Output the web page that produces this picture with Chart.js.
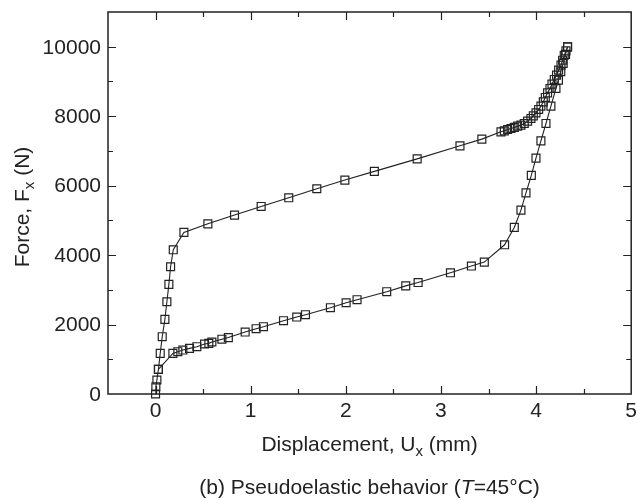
<!DOCTYPE html>
<html>
<head>
<meta charset="utf-8">
<script src="https://cdn.jsdelivr.net/npm/chart.js@4.4.1/dist/chart.umd.min.js"></script>
<style>
  body { margin: 0; background: #fff; }
  #wrap { width: 638px; height: 500px; }
</style>
</head>
<body>
<div id="wrap"><canvas id="forceChart" width="638" height="500"></canvas></div>
<script>
// loading branch, displacement (mm) / force (N)
const loadX = [0, 0.003, 0.014, 0.03, 0.049, 0.07, 0.098, 0.119, 0.14, 0.158,
    0.186, 0.298, 0.55, 0.83, 1.11, 1.40, 1.695, 1.99, 2.30, 2.75,
    3.20, 3.43, 3.631, 3.666, 3.701, 3.736, 3.771, 3.806, 3.841, 3.876,
    3.911, 3.946, 3.971, 3.999, 4.027, 4.051, 4.076, 4.097, 4.121, 4.146,
    4.167, 4.191, 4.215, 4.237, 4.262, 4.279, 4.296, 4.314, 4.331];
const loadY = [0, 210, 403, 710, 1170, 1650, 2150, 2656, 3157, 3664,
    4153, 4653, 4900, 5152, 5400, 5650, 5910, 6160, 6410, 6770,
    7146, 7339, 7549, 7578, 7618, 7647, 7676, 7713, 7742, 7791,
    7857, 7935, 8010, 8096, 8194, 8289, 8413, 8539, 8672, 8798,
    8922, 9057, 9181, 9325, 9469, 9612, 9756, 9881, 9996];

// unloading branch
const unloadX = [4.331, 4.31, 4.285, 4.26, 4.235, 4.209, 4.156, 4.104, 4.051, 3.999,
    3.95, 3.894, 3.841, 3.771, 3.669, 3.456, 3.32, 3.10, 2.76, 2.63,
    2.43, 2.118, 2.003, 1.838, 1.576, 1.484, 1.345, 1.134, 1.057, 0.942,
    0.765, 0.697, 0.592, 0.56, 0.515, 0.434, 0.357, 0.287, 0.234, 0.182,
    0.03];
const unloadY = [9996, 9780, 9520, 9280, 9040, 8797, 8289, 7790, 7290, 6792,
    6294, 5793, 5296, 4797, 4297, 3799, 3684, 3491, 3209, 3113,
    2945, 2715, 2628, 2485, 2283, 2216, 2110, 1937, 1880, 1784,
    1625, 1578, 1497, 1458, 1440, 1362, 1314, 1266, 1218, 1170,
    710];

const xTicks = [0, 1, 2, 3, 4, 5];
const yTicks = [0, 2000, 4000, 6000, 8000, 10000];

const FONT = '"Liberation Sans", Arial, Helvetica, sans-serif';
const INK = '#222';

function toPoints(xs, ys) {
    return xs.map((x, i) => ({ x: x, y: ys[i] }));
}

// draws text pieces one after another, returns the x where it stopped
function drawRun(ctx, parts, x, y) {
    parts.forEach(p => {
        ctx.font = p.font;
        ctx.fillText(p.text, x, y + (p.dy || 0));
        x += ctx.measureText(p.text).width;
    });
    return x;
}

function runWidth(ctx, parts) {
    let w = 0;
    parts.forEach(p => {
        ctx.font = p.font;
        w += ctx.measureText(p.text).width;
    });
    return w;
}

// box frame with inward ticks, tick labels and titles
const framePlugin = {
    id: 'frame',
    afterDraw(chart) {
        const ctx = chart.ctx;
        const a = chart.chartArea;
        const sx = chart.scales.x;
        const sy = chart.scales.y;

        ctx.save();
        ctx.strokeStyle = INK;
        ctx.lineWidth = 1.5;
        ctx.strokeRect(a.left, a.top, a.right - a.left, a.bottom - a.top);

        ctx.lineWidth = 1.2;
        ctx.beginPath();
        for (let v = 0; v < 5; v += 0.5) {
            const px = Math.round(sx.getPixelForValue(v)) + 0.5;
            const len = Number.isInteger(v) ? 8 : 5;
            ctx.moveTo(px, a.bottom);
            ctx.lineTo(px, a.bottom - len);
            ctx.moveTo(px, a.top);
            ctx.lineTo(px, a.top + len);
        }
        for (let v = 1000; v <= 10000; v += 1000) {
            const py = Math.round(sy.getPixelForValue(v)) + 0.5;
            const len = v % 2000 === 0 ? 8 : 5;
            ctx.moveTo(a.left, py);
            ctx.lineTo(a.left + len, py);
            ctx.moveTo(a.right, py);
            ctx.lineTo(a.right - len, py);
        }
        ctx.stroke();

        ctx.fillStyle = INK;
        ctx.font = '21px ' + FONT;
        ctx.textAlign = 'center';
        ctx.textBaseline = 'alphabetic';
        xTicks.forEach(v => {
            ctx.fillText(String(v), sx.getPixelForValue(v), a.bottom + 23);
        });
        ctx.textAlign = 'right';
        ctx.textBaseline = 'middle';
        yTicks.forEach(v => {
            ctx.fillText(String(v), a.left - 7, sy.getPixelForValue(v) + 1);
        });

        ctx.textAlign = 'left';
        ctx.textBaseline = 'alphabetic';
        const big = '21px ' + FONT;
        const sub = '15px ' + FONT;

        // x axis title
        const xTitle = [
            { text: 'Displacement, U', font: big },
            { text: 'x', font: sub, dy: 5 },
            { text: ' (mm)', font: big }
        ];
        const cx = (a.left + a.right) / 2;
        drawRun(ctx, xTitle, cx - runWidth(ctx, xTitle) / 2, 450.5);

        // y axis title, rotated
        const yTitle = [
            { text: 'Force, F', font: big },
            { text: 'x', font: sub, dy: 5 },
            { text: ' (N)', font: big }
        ];
        ctx.save();
        ctx.translate(28.5, (a.top + a.bottom) / 2 + 4);
        ctx.rotate(-Math.PI / 2);
        drawRun(ctx, yTitle, -runWidth(ctx, yTitle) / 2, 0);
        ctx.restore();

        // caption under the plot
        const caption = [
            { text: '(b) Pseudoelastic behavior (', font: big },
            { text: 'T', font: 'italic ' + big },
            { text: '=45\u00B0C)', font: big }
        ];
        drawRun(ctx, caption, cx - runWidth(ctx, caption) / 2, 494);
        ctx.restore();
    }
};

function branch(xs, ys) {
    return {
        data: toPoints(xs, ys),
        showLine: true,
        borderColor: INK,
        borderWidth: 1.1,
        pointStyle: 'rect',
        pointRadius: 5.6,
        pointBorderColor: INK,
        pointBorderWidth: 1.2,
        pointBackgroundColor: 'rgba(0,0,0,0)',
        tension: 0,
        clip: false
    };
}

const ctx = document.getElementById('forceChart').getContext('2d');
new Chart(ctx, {
    type: 'scatter',
    data: {
        datasets: [branch(loadX, loadY), branch(unloadX, unloadY)]
    },
    options: {
        responsive: false,
        animation: false,
        layout: { padding: { left: 108, right: 6, top: 12, bottom: 106 } },
        plugins: {
            legend: { display: false },
            tooltip: { enabled: false }
        },
        scales: {
            x: { type: 'linear', min: -0.5, max: 5, display: false },
            y: { type: 'linear', min: 0, max: 11000, display: false }
        }
    },
    plugins: [framePlugin]
});
</script>
</body>
</html>
